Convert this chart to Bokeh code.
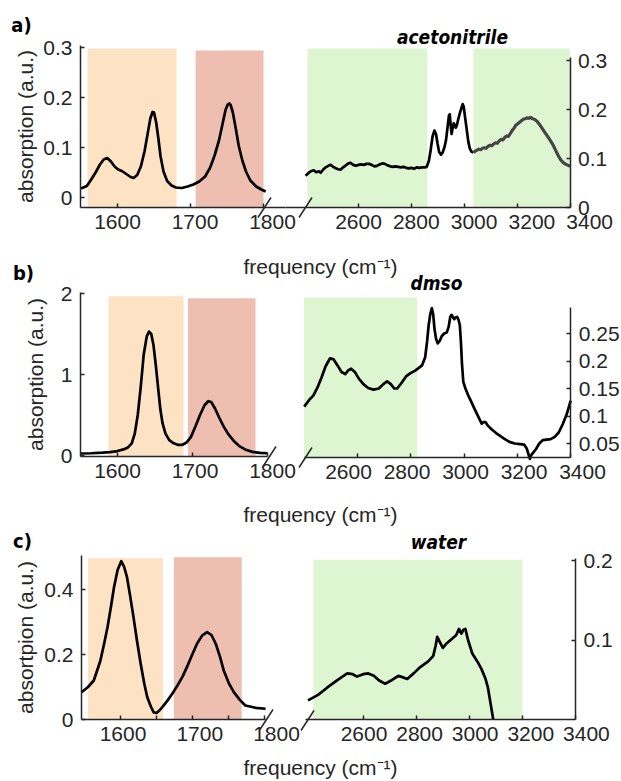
from bokeh.plotting import figure
from bokeh.models import Range1d, FixedTicker, CustomJSTickFormatter, Label, LinearAxis
from bokeh.core.properties import value
from bokeh.embed import file_html
from bokeh.resources import INLINE

# ---------------------------------------------------------------- data
# panel a) acetonitrile
a_left_x = [1550, 1558, 1564, 1570, 1576, 1581, 1586, 1591, 1596, 1601, 1606, 1612, 1618, 1622, 1627,
            1632, 1637, 1641, 1645, 1648, 1650, 1653, 1656, 1659, 1663, 1668, 1674, 1680, 1688, 1696,
            1704, 1712, 1720, 1727, 1733, 1739, 1744, 1748, 1751, 1753, 1755, 1758, 1762, 1766, 1771,
            1776, 1782, 1790, 1797, 1803]
a_left_y = [0.018, 0.023, 0.036, 0.050, 0.066, 0.076, 0.079, 0.072, 0.062, 0.056, 0.053, 0.047, 0.041,
            0.039, 0.045, 0.062, 0.092, 0.125, 0.158, 0.171, 0.170, 0.150, 0.118, 0.082, 0.052, 0.033,
            0.024, 0.020, 0.019, 0.022, 0.026, 0.032, 0.042, 0.060, 0.084, 0.114, 0.148, 0.175, 0.186,
            0.188, 0.185, 0.170, 0.138, 0.104, 0.074, 0.052, 0.034, 0.022, 0.016, 0.012]
a_right_x = [2400, 2410, 2420, 2431, 2440, 2450, 2457, 2466, 2476, 2486, 2495, 2504, 2514, 2523, 2532,
             2542, 2552, 2562, 2570, 2580, 2590, 2600, 2610, 2620, 2630, 2640, 2650, 2660, 2670, 2680,
             2690, 2700, 2710, 2720, 2730, 2740, 2750, 2760, 2770, 2780, 2790, 2800, 2810, 2820, 2830,
             2840, 2850, 2858, 2866, 2873, 2880, 2887, 2893, 2899, 2905, 2912, 2918, 2925, 2931, 2937,
             2942, 2945, 2949, 2952, 2956, 2960, 2964, 2968, 2972, 2977, 2983, 2989, 2994, 2998, 3003,
             3009, 3015, 3021, 3027, 3034]
a_right_y = [0.065, 0.070, 0.074, 0.076, 0.072, 0.074, 0.071, 0.077, 0.082, 0.085, 0.087, 0.083, 0.080,
             0.078, 0.077, 0.082, 0.086, 0.090, 0.091, 0.087, 0.085, 0.087, 0.088, 0.087, 0.089, 0.089,
             0.087, 0.084, 0.085, 0.088, 0.090, 0.089, 0.086, 0.084, 0.083, 0.084, 0.083, 0.082, 0.083,
             0.081, 0.080, 0.081, 0.079, 0.082, 0.081, 0.082, 0.082, 0.083, 0.095, 0.118, 0.145, 0.157,
             0.150, 0.130, 0.113, 0.108, 0.112, 0.123, 0.138, 0.165, 0.188, 0.190, 0.165, 0.150, 0.162,
             0.172, 0.168, 0.163, 0.168, 0.180, 0.192, 0.203, 0.211, 0.205, 0.184, 0.160, 0.135, 0.120,
             0.114, 0.112]
a_right2_x = [3034, 3041, 3048, 3055, 3062, 3069, 3076, 3083, 3090, 3097, 3104, 3111, 3118, 3125, 3132,
              3139, 3146, 3153, 3160, 3167, 3174, 3181, 3188, 3195, 3202, 3209, 3216, 3223, 3230, 3237,
              3244, 3251, 3258, 3265, 3275, 3285, 3295, 3305, 3315, 3325, 3335, 3345, 3355, 3365, 3375,
              3385, 3393, 3400]
a_right2_y = [0.112, 0.115, 0.117, 0.119, 0.118, 0.121, 0.122, 0.121, 0.125, 0.127, 0.126, 0.130, 0.132,
              0.131, 0.136, 0.139, 0.138, 0.143, 0.146, 0.145, 0.151, 0.157, 0.162, 0.168, 0.171, 0.174,
              0.177, 0.180, 0.181, 0.183, 0.182, 0.184, 0.181, 0.180, 0.176, 0.169, 0.161, 0.153, 0.145,
              0.137, 0.128, 0.117, 0.106, 0.097, 0.091, 0.088, 0.086, 0.084]
a_left_band_lo = [1559, 1707]
a_left_band_hi = [1681, 1800]
a_left_band_top = [0.298, 0.294]
a_right_band_lo = [2407, 3034]
a_right_band_hi = [2860, 3400]
a_right_band_top = [0.3245, 0.3245]

# panel b) dmso
b_left_x = [1550, 1565, 1580, 1590, 1600, 1608, 1614, 1619, 1623, 1627, 1631, 1635, 1639, 1642, 1645,
            1648, 1651, 1654, 1657, 1660, 1664, 1669, 1675, 1681, 1686, 1692, 1698, 1704, 1710, 1716,
            1721, 1725, 1730, 1736, 1742, 1748, 1755, 1762, 1770, 1780, 1790, 1800]
b_left_y = [0.025, 0.028, 0.035, 0.042, 0.055, 0.075, 0.10, 0.15, 0.27, 0.50, 0.85, 1.25, 1.47, 1.53,
            1.50, 1.36, 1.12, 0.85, 0.58, 0.40, 0.27, 0.19, 0.15, 0.13, 0.13, 0.16, 0.23, 0.36, 0.50,
            0.62, 0.67, 0.66, 0.58, 0.46, 0.35, 0.26, 0.18, 0.12, 0.075, 0.045, 0.033, 0.028]
b_right_x = [2400, 2420, 2434, 2450, 2465, 2480, 2497, 2510, 2525, 2540, 2554, 2565, 2576, 2590, 2605,
             2622, 2640, 2660, 2680, 2697, 2711, 2725, 2738, 2749, 2765, 2782, 2799, 2815, 2829, 2842,
             2854, 2861, 2867, 2873, 2879, 2884, 2889, 2895, 2901, 2908, 2916, 2925, 2935, 2942, 2948,
             2953, 2958, 2963, 2968, 2974, 2979, 2984, 2988, 2992, 2997, 3005, 3015, 3025, 3040, 3055,
             3066, 3073, 3080, 3090, 3105, 3120, 3135, 3150, 3170, 3190, 3210, 3225, 3235, 3243, 3247,
             3252, 3260, 3270, 3282, 3295, 3310, 3325, 3340, 3355, 3370, 3385, 3400]
b_right_y = [0.117, 0.130, 0.137, 0.152, 0.170, 0.190, 0.205, 0.203, 0.192, 0.180, 0.176, 0.183, 0.186,
             0.180, 0.168, 0.158, 0.151, 0.148, 0.150, 0.158, 0.163, 0.158, 0.150, 0.150, 0.160, 0.172,
             0.178, 0.182, 0.187, 0.192, 0.207, 0.235, 0.265, 0.285, 0.296, 0.285, 0.258, 0.240, 0.232,
             0.236, 0.245, 0.250, 0.252, 0.262, 0.280, 0.284, 0.280, 0.276, 0.279, 0.280, 0.275, 0.265,
             0.235, 0.195, 0.162, 0.150, 0.138, 0.128, 0.112, 0.097, 0.086, 0.089, 0.089, 0.082, 0.075,
             0.069, 0.064, 0.059, 0.053, 0.050, 0.049, 0.048, 0.041, 0.028, 0.022, 0.029, 0.034, 0.040,
             0.050, 0.056, 0.057, 0.058, 0.062, 0.070, 0.085, 0.103, 0.128]
b_left_band_lo = [1588, 1694]
b_left_band_hi = [1688, 1784]
b_left_band_top = [1.967, 1.942]
b_right_band_lo = [2399]
b_right_band_hi = [2824]
b_right_band_top = [0.3155]

# panel c) water
c_left_x = [1546, 1555, 1563, 1572, 1577, 1582, 1587, 1591, 1596, 1601, 1605, 1609, 1613, 1618, 1623,
            1628, 1633, 1637, 1642, 1646, 1650, 1653, 1658, 1665, 1672, 1679, 1686, 1692, 1699, 1706,
            1713, 1720, 1726, 1732, 1738, 1743, 1750, 1757, 1765, 1773, 1787, 1801]
c_left_y = [0.084, 0.100, 0.120, 0.180, 0.230, 0.284, 0.350, 0.407, 0.460, 0.487, 0.470, 0.438, 0.385,
            0.315, 0.240, 0.171, 0.110, 0.069, 0.040, 0.022, 0.020, 0.026, 0.038, 0.058, 0.080, 0.105,
            0.132, 0.161, 0.198, 0.233, 0.258, 0.269, 0.260, 0.233, 0.192, 0.151, 0.112, 0.084, 0.061,
            0.043, 0.036, 0.033]
c_right_x = [2392, 2430, 2464, 2500, 2540, 2560, 2577, 2600, 2619, 2640, 2660, 2683, 2705, 2732, 2750,
             2766, 2790, 2815, 2845, 2864, 2873, 2879, 2888, 2900, 2915, 2936, 2950, 2961, 2970, 2978,
             2985, 2995, 3011, 3030, 3045, 3060, 3070, 3080, 3090]
c_right_y = [0.024, 0.031, 0.040, 0.049, 0.058, 0.057, 0.054, 0.057, 0.058, 0.055, 0.049, 0.045, 0.049,
             0.055, 0.053, 0.051, 0.058, 0.066, 0.073, 0.080, 0.093, 0.104, 0.098, 0.090, 0.096, 0.102,
             0.106, 0.114, 0.108, 0.113, 0.114, 0.100, 0.083, 0.073, 0.064, 0.052, 0.040, 0.020, 0.0]
c_left_band_lo = [1555, 1674]
c_left_band_hi = [1659, 1768]
c_left_band_top = [0.496, 0.499]
c_right_band_lo = [2412]
c_right_band_hi = [3200]
c_right_band_top = [0.201]

left_xticks = [1600, 1700, 1800]
c_left_minor = [1650, 1750]
right_xticks = [2600, 2800, 3000, 3200, 3400]
a_left_yticks = [0, 0.1, 0.2, 0.3]
a_right_yticks = [0, 0.1, 0.2, 0.3]
b_left_yticks = [0, 1, 2]
b_right_yticks = [0.05, 0.1, 0.15, 0.2, 0.25]
c_left_yticks = [0, 0.2, 0.4]
c_right_yticks = [0.1, 0.2]
x_end = 3400

titles = ["acetonitrile", "dmso", "water"]
letters = ["a)", "b)", "c)"]
ylabels = ["absorption (a.u.)", "absorption (a.u.)", "absortpion (a.u.)"]
xlabel = "frequency (cm\u207b\u00b9)"

# ---------------------------------------------------------------- style / layout
W, H = 621, 779
M = 0  # canvas origin in page pixels
ORANGE, RED, GREEN = "#FDE2C4", "#EEBEB1", "#DDF5D1"
AX = "#262626"
FONT = "Liberation Sans"
COND = "'Liberation Sans Narrow', 'DejaVu Sans Condensed', 'Roboto', sans-serif"

# default ranges = page pixel coordinates (used only for free texts and break marks)
p = figure(width=W, height=H, x_range=Range1d(M, M + W), y_range=Range1d(M + H, M),
           x_axis_location=None, y_axis_location=None, min_border=0,
           output_backend="svg", toolbar_location=None)
p.outline_line_color = None
p.grid.visible = False


def cx(c, px):
    return c[0] + (px - c[1]) / c[2]


def cy(c, py):
    return c[0] + (c[1] - py) / c[2]


def style_axis(ax, ticks, minor=None):
    ax.ticker = FixedTicker(ticks=ticks, minor_ticks=minor or [])
    ax.formatter = CustomJSTickFormatter(code="return String(Math.round(tick*1000)/1000);")
    ax.major_tick_in = 4
    ax.major_tick_out = 0
    ax.minor_tick_in = 4 if minor else 0
    ax.minor_tick_out = 0
    ax.minor_tick_line_color = AX if minor else None
    ax.minor_tick_line_width = 1.5
    ax.axis_line_color = AX
    ax.axis_line_width = 1.5
    ax.major_tick_line_color = AX
    ax.major_tick_line_width = 1.5
    ax.major_label_text_font = FONT
    ax.major_label_text_font_size = "21px"
    ax.major_label_text_color = AX
    ax.major_label_standoff = 7


# subplot geometry (page pixels): calibration (value, page px, px per unit)
subs = [
    # name, xcal, x tick-label cal, ycal, x-axis line px (from, to), y-axis line py (top, bottom), side
    ("aL", (1600, 117, 0.73), (1600, 117, 0.775), (0, 197, 500), (80, 285), (45, 207), "left"),
    ("aR", (2600, 358, 0.2645), (2600, 358, 0.289), (0, 207, 490), (285, None), (57, 207), "right"),
    ("bL", (1600, 117, 0.75), (1600, 117, 0.775), (0, 455, 81), (80, 267), (292, 456), "left"),
    ("bR", (2600, 357, 0.2665), (2600, 348, 0.2925), (0, 470.5, 550), (304, None), (307, 457), "right"),
    ("cL", (1600, 120, 0.7217), (1600, 122.5, 0.7675), (0, 719, 325), (81, 265), (555, 719), "left"),
    ("cR", (2600, 362.7, 0.2654), (2600, 363.5, 0.278), (0, 719, 795), (305, None), (558, 719), "right"),
]
curves = {"aL": (a_left_x, a_left_y), "aR": (a_right_x, a_right_y),
          "bL": (b_left_x, b_left_y), "bR": (b_right_x, b_right_y),
          "cL": (c_left_x, c_left_y), "cR": (c_right_x, c_right_y)}
bandsets = {"aL": (a_left_band_lo, a_left_band_hi, a_left_band_top, [ORANGE, RED]),
            "aR": (a_right_band_lo, a_right_band_hi, a_right_band_top, [GREEN, GREEN]),
            "bL": (b_left_band_lo, b_left_band_hi, b_left_band_top, [ORANGE, RED]),
            "bR": (b_right_band_lo, b_right_band_hi, b_right_band_top, [GREEN]),
            "cL": (c_left_band_lo, c_left_band_hi, c_left_band_top, [ORANGE, RED]),
            "cR": (c_right_band_lo, c_right_band_hi, c_right_band_top, [GREEN])}
yticks = {"aL": a_left_yticks, "aR": a_right_yticks, "bL": b_left_yticks, "bR": b_right_yticks,
          "cL": c_left_yticks, "cR": c_right_yticks}
label_standoff = {"aL": 3, "bL": 11, "cL": 4}

xr, yr = {}, {}
for name, xc, lc, yc, xl, yl, side in subs:
    xr[name] = Range1d(cx(xc, M), cx(xc, M + W))
    xr[name + "_lab"] = Range1d(cx(lc, M), cx(lc, M + W))
    yr[name] = Range1d(cy(yc, M + H), cy(yc, M))
p.extra_x_ranges = xr
p.extra_y_ranges = yr

for k, (name, xc, lc, yc, xl, yl, side) in enumerate(subs):
    panel = k // 2
    y_bottom = cy(yc, yl[1])
    y_top = cy(yc, yl[0])
    x_from = cx(xc, xl[0])
    x_to = cx(xc, xl[1]) if xl[1] is not None else x_end
    lo, hi, top, cols = bandsets[name]
    p.quad(left=lo, right=hi, top=top, bottom=[y_bottom] * len(lo), fill_color=cols, line_color=None,
           x_range_name=name, y_range_name=name)
    xs, ys = curves[name]
    p.line(xs, ys, line_color="black", line_width=2.7, line_join="round",
           x_range_name=name, y_range_name=name)
    if name == "aR":
        p.line(a_right2_x, a_right2_y, line_color="#454545", line_width=3.2, line_join="round",
               x_range_name=name, y_range_name=name)

    xticks = left_xticks if side == "left" else right_xticks
    # axis line and tick marks
    xax = LinearAxis(x_range_name=name, y_range_name=name, fixed_location=y_bottom, bounds=(x_from, x_to))
    style_axis(xax, xticks, minor=c_left_minor if name == "cL" else None)
    xax.major_label_text_color = None
    p.add_layout(xax, "below")
    # tick labels, spaced as in the original figure
    xlab = LinearAxis(x_range_name=name + "_lab", y_range_name=name, fixed_location=y_bottom)
    style_axis(xlab, xticks)
    xlab.axis_line_color = None
    xlab.major_tick_line_color = None
    p.add_layout(xlab, "below")

    yax = LinearAxis(x_range_name=name, y_range_name=name,
                     fixed_location=x_from if side == "left" else x_end, bounds=(y_bottom, y_top))
    style_axis(yax, yticks[name])
    yax.major_label_standoff = 8
    if side == "left":
        yax.axis_label = ylabels[panel]
        yax.axis_label_text_font = FONT
        yax.axis_label_text_font_size = "21px"
        yax.axis_label_text_font_style = "normal"
        yax.axis_label_text_color = AX
        yax.axis_label_standoff = label_standoff[name]
    p.add_layout(yax, side)

# ---------------------------------------------------------------- free texts and break marks (page px)
letter_pos = [(21, 24), (23, 272), (22, 540)]
title_pos = [(452, 36), (436, 282), (438, 541)]
xlabel_pos = [(320, 266), (320, 514), (320, 767)]
for i in range(3):
    lx, ly = letter_pos[i]
    p.add_layout(Label(x=lx, y=ly, text=letters[i], text_align="center", text_baseline="middle",
                       text_font=COND, text_font_size="20px", text_font_style="bold", text_color="black"))
    tx, ty = title_pos[i]
    p.add_layout(Label(x=tx, y=ty, text=titles[i], text_align="center", text_baseline="middle",
                       text_font=COND, text_font_size="19px", text_font_style="bold italic",
                       text_color="black"))
    fx, fy = xlabel_pos[i]
    p.add_layout(Label(x=fx, y=fy, text=xlabel, text_align="center", text_baseline="middle",
                       text_font=FONT, text_font_size="21px", text_color=AX))

slash_centres = [(264, 207), (305, 207), (269, 456), (305, 457), (266, 719), (307, 720)]
p.segment(x0=[c[0] - 6.5 for c in slash_centres], y0=[c[1] + 10 for c in slash_centres],
          x1=[c[0] + 6.5 for c in slash_centres], y1=[c[1] - 10 for c in slash_centres],
          line_color=AX, line_width=1.5)

open("out.html", "w").write(file_html(p, INLINE))
